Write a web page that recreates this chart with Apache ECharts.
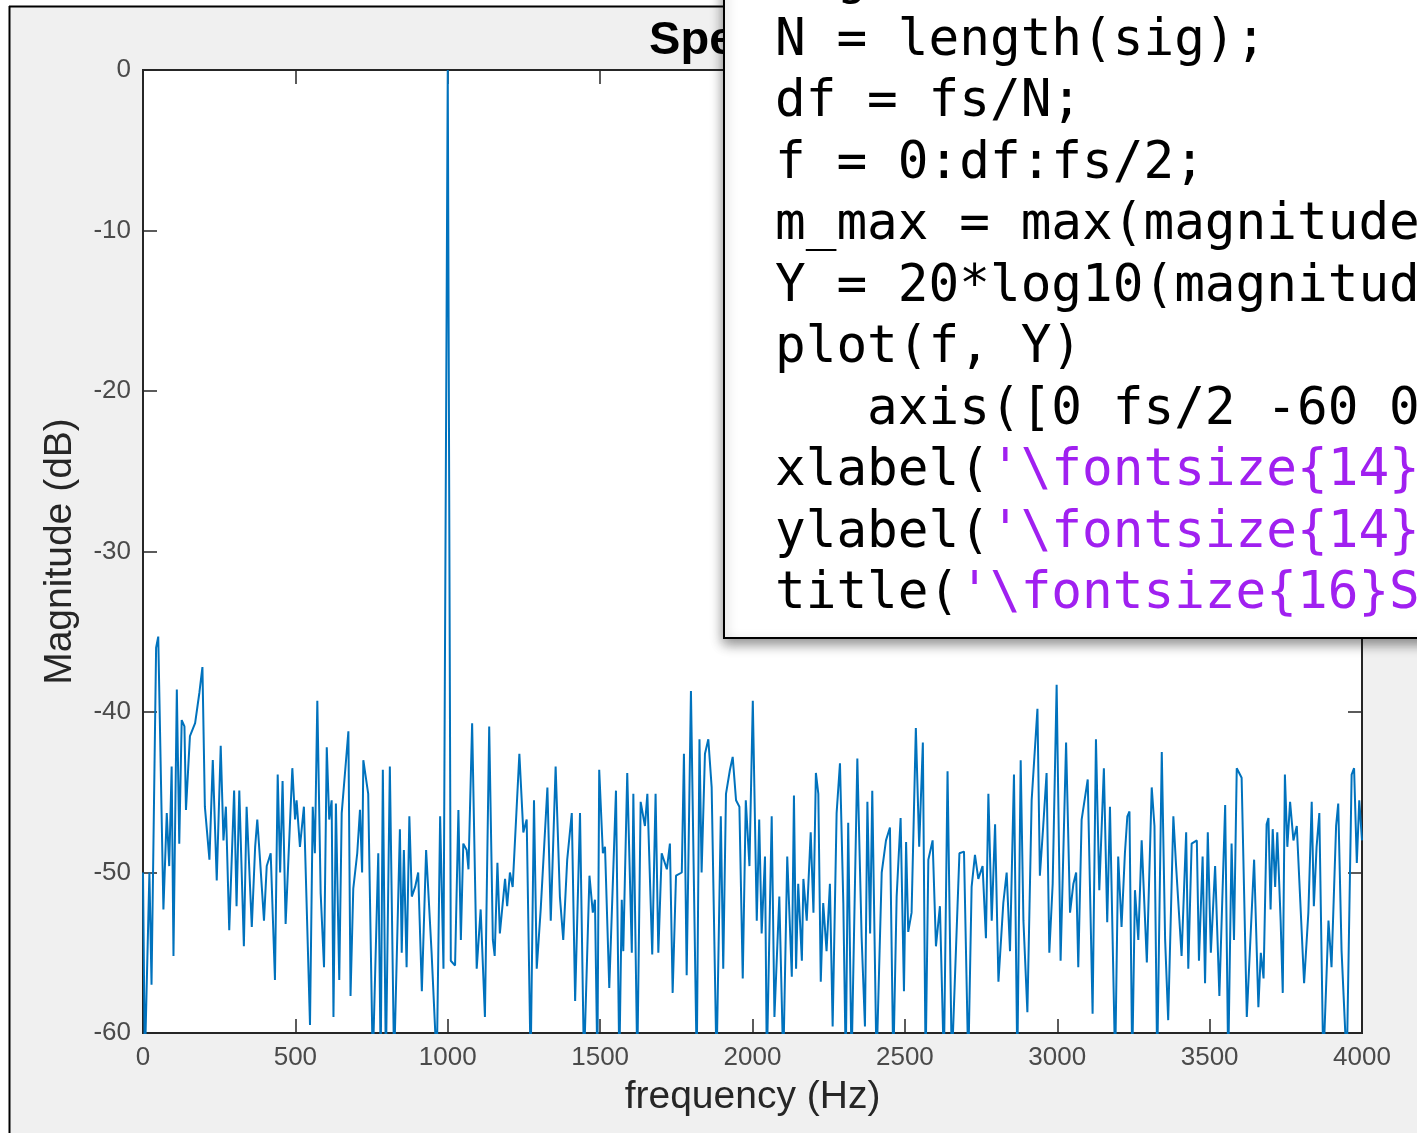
<!DOCTYPE html>
<html>
<head>
<meta charset="utf-8">
<style>
  html, body { margin: 0; padding: 0; background: #fff; }
  #chart { width: 1417px; height: 1133px; }
</style>
<script src="https://cdn.jsdelivr.net/npm/echarts@6/dist/echarts.min.js"></script>
</head>
<body>
<div id="chart"></div>
<script>
// Single-sided magnitude spectrum, 0 .. fs/2 (fs = 8000 Hz), normalised to the peak.
const freqHz = [
  0, 6, 21, 28, 43, 50, 67, 78, 86, 94, 100, 111, 119, 127, 136, 141, 154, 171, 185, 195,
  203, 218, 229, 242, 255, 264, 272, 283, 299, 307, 316, 331, 340, 357, 368, 375, 384, 397, 406, 419,
  433, 442, 450, 458, 468, 490, 499, 504, 515, 528, 548, 557, 564, 572, 583, 594, 603, 611, 619, 625,
  633, 644, 652, 674, 681, 690, 703, 712, 719, 723, 739, 754, 772, 780, 787, 797, 810, 824, 843, 849,
  856, 865, 874, 882, 893, 903, 915, 929, 947, 964, 975, 986, 1000, 1010, 1024, 1035, 1043, 1051, 1062, 1068,
  1080, 1095, 1108, 1122, 1136, 1148, 1154, 1163, 1171, 1188, 1195, 1204, 1213, 1235, 1248, 1259, 1272, 1283, 1292, 1305,
  1327, 1338, 1354, 1368, 1379, 1392, 1407, 1418, 1434, 1447, 1465, 1476, 1483, 1491, 1497, 1509, 1516, 1530, 1552, 1563,
  1571, 1576, 1589, 1604, 1609, 1622, 1633, 1647, 1655, 1671, 1682, 1691, 1702, 1719, 1729, 1738, 1749, 1768, 1775, 1784,
  1798, 1817, 1826, 1833, 1844, 1855, 1866, 1882, 1896, 1904, 1913, 1926, 1935, 1946, 1957, 1968, 1978, 1990, 2001, 2014,
  2022, 2030, 2041, 2047, 2063, 2072, 2088, 2101, 2114, 2129, 2136, 2143, 2150, 2162, 2167, 2178, 2191, 2200, 2208, 2216,
  2224, 2232, 2243, 2254, 2263, 2276, 2287, 2298, 2306, 2314, 2325, 2344, 2358, 2369, 2377, 2386, 2393, 2407, 2424, 2438,
  2451, 2462, 2473, 2486, 2497, 2504, 2511, 2522, 2536, 2547, 2559, 2568, 2577, 2591, 2602, 2615, 2628, 2640, 2654, 2679,
  2694, 2708, 2719, 2730, 2741, 2755, 2766, 2774, 2785, 2796, 2807, 2823, 2834, 2845, 2858, 2869, 2880, 2889, 2902, 2916,
  2935, 2943, 2954, 2965, 2974, 2985, 2998, 3011, 3029, 3042, 3053, 3062, 3069, 3080, 3100, 3116, 3127, 3138, 3153, 3164,
  3173, 3190, 3200, 3211, 3222, 3230, 3237, 3246, 3255, 3266, 3277, 3294, 3310, 3319, 3328, 3343, 3354, 3364, 3381, 3390,
  3408, 3423, 3430, 3441, 3458, 3465, 3477, 3485, 3494, 3504, 3518, 3532, 3551, 3561, 3572, 3580, 3589, 3605, 3622, 3646,
  3660, 3668, 3677, 3687, 3693, 3700, 3707, 3715, 3722, 3733, 3740, 3747, 3755, 3764, 3775, 3786, 3810, 3824, 3835, 3842,
  3851, 3860, 3873, 3890, 3900, 3915, 3922, 3933, 3950, 3966, 3974, 3983, 3991, 4000
];

const magDb = [
  -50, -62, -50, -57, -36, -35.3, -52.3, -46.3, -49.6, -43.4, -55.2, -38.6, -48.2, -40.5, -40.9, -46.1, -41.5, -40.7, -38.8, -37.2,
  -45.9, -49.2, -43.0, -50.5, -42.1, -48.0, -45.9, -53.6, -44.9, -52.1, -44.9, -54.6, -45.9, -53.4, -48.4, -46.7, -49.2, -53.0, -49.6, -48.8,
  -56.7, -43.9, -50.0, -44.3, -53.2, -43.5, -46.7, -45.5, -48.4, -45.9, -59.5, -45.9, -48.8, -39.3, -51.3, -55.9, -42.2, -46.7, -45.5, -59.0,
  -45.7, -56.7, -46.3, -41.2, -57.7, -51.0, -48.8, -46.1, -50.0, -43.0, -45.1, -62, -48.8, -62, -43.6, -62, -43.4, -62, -47.3, -55,
  -48.6, -55.9, -46.5, -51.5, -50.9, -50, -57.4, -48.6, -55, -62, -46.5, -56, 0, -55.5, -55.8, -46.1, -54.2, -48.2, -48.6, -49.8,
  -40.7, -56, -52.3, -59, -40.9, -54.2, -55.2, -49.4, -53.8, -50.4, -52.1, -50, -50.9, -42.6, -47.5, -46.7, -62, -45.5, -56, -52.3,
  -44.7, -53, -43.4, -51.5, -54.2, -49.2, -46.3, -58, -46.3, -62, -50.2, -52.5, -51.7, -62, -43.6, -48.8, -48.4, -57.2, -44.9, -62,
  -51.7, -54.9, -43.8, -55, -45.1, -62, -45.6, -47.1, -45.1, -55.1, -45.1, -55, -48.8, -49.8, -48.2, -57.5, -50.2, -50, -42.6, -56.4,
  -38.7, -62, -41.7, -50, -42.6, -41.7, -44.7, -62, -46.5, -56, -45.1, -43.6, -42.8, -45.5, -45.9, -56.6, -45.5, -49.6, -39.3, -53,
  -46.7, -53.8, -49, -62, -46.5, -59, -51.5, -62, -49, -56.5, -45.2, -56, -50.7, -55.5, -50.4, -53, -47.5, -52.5, -43.8, -45.1,
  -56.8, -51.9, -54.9, -50.7, -59.6, -46.3, -43.2, -51.9, -62, -46.9, -62, -42.9, -54, -59.6, -45.6, -53.8, -44.9, -62, -50, -48,
  -47.2, -62, -51.5, -46.6, -57.4, -48.1, -53.7, -52.5, -41, -48.4, -41.9, -62, -49.2, -48, -54.6, -52.1, -62, -43.7, -62, -48.8,
  -48.7, -62, -50.9, -48.9, -50.4, -49.6, -54.1, -45.1, -53, -47, -56.8, -51.9, -50, -54.9, -43.9, -62, -43, -53, -58.7, -45.5,
  -39.8, -50.2, -47.1, -43.8, -55, -50.7, -38.3, -55.5, -41.9, -52.5, -50.7, -50, -55.9, -46.7, -44.2, -58.8, -41.7, -51.1, -43.5, -53.1,
  -45.9, -62, -49, -53.4, -48.8, -46.5, -46.2, -62, -51.1, -54.2, -48, -55.6, -44.7, -47.1, -62, -42.5, -54.2, -59.2, -46.5, -49.6,
  -55.2, -47.5, -56, -48.2, -48, -55.5, -49, -56.9, -47.5, -55, -49.6, -57.7, -45.8, -62, -48.2, -54.2, -43.5, -44.1, -59, -49.2,
  -58.4, -55, -56.6, -47, -46.6, -52.3, -47.3, -50.9, -47.5, -53, -57.5, -43.9, -48.4, -45.6, -48, -47.1, -56.9, -52.5, -45.6, -52.1,
  -48.4, -46.3, -62, -53, -55.9, -47.1, -45.7, -54.9, -62, -43.9, -43.5, -49.4, -45.5, -48
];

// MATLAB snippet shown in the editor panel
const codeLines = [
  [['magnitude = abs(fft(sig));', 'k']],
  [['N = length(sig);', 'k']],
  [['df = fs/N;', 'k']],
  [['f = 0:df:fs/2;', 'k']],
  [['m_max = max(magnitude);', 'k']],
  [['Y = 20*log10(magnitude/m_max);', 'k']],
  [['plot(f, Y)', 'k']],
  [['   axis([0 fs/2 -60 0])', 'k']],
  [['xlabel(', 'k'], ["'\\fontsize{14}frequency (Hz)'", 's'], [')', 'k']],
  [['ylabel(', 'k'], ["'\\fontsize{14}Magnitude (dB)'", 's'], [')', 'k']],
  [['title(', 'k'], ["'\\fontsize{16}Spectrum'", 's'], [')', 'k']]
];

const titleText = 'Spectrum';
const xName = 'frequency (Hz)';
const yName = 'Magnitude (dB)';

const sans = '"Liberation Sans", Helvetica, Arial, sans-serif';
const mono = '"DejaVu Sans Mono", monospace';
const axisInk = '#262626';

const chart = echarts.init(document.getElementById('chart'), null, { renderer: 'canvas' });

// editor panel overlay
const codeFont = 51;
const charW = codeFont * 0.60205;
const codeX = 775;
const codeY0 = -20;
const codeStep = 61.5;
const codeGraphics = [
  {
    type: 'rect', z: 100,
    shape: { x: 724, y: -20, width: 800, height: 658 },
    style: {
      fill: '#fff', stroke: '#000', lineWidth: 2,
      shadowBlur: 12, shadowOffsetX: 0, shadowOffsetY: 5, shadowColor: 'rgba(0,0,0,0.45)'
    }
  }
];
codeLines.forEach((segs, i) => {
  let col = 0;
  segs.forEach(([txt, kind]) => {
    codeGraphics.push({
      type: 'text', z: 101,
      x: codeX + col * charW,
      y: codeY0 + i * codeStep,
      style: {
        text: txt,
        font: codeFont + 'px ' + mono,
        fill: kind === 's' ? '#A020F0' : '#000',
        align: 'left', verticalAlign: 'middle',
        textAlign: 'left', textVerticalAlign: 'middle'
      }
    });
    col += txt.length;
  });
});

const frameGraphics = [
  { type: 'rect', z: 99, shape: { x: 0, y: 0, width: 9, height: 1133 }, style: { fill: '#fff' } },
  { type: 'rect', z: 99, shape: { x: 0, y: 0, width: 1417, height: 6 }, style: { fill: '#fff' } },
  { type: 'line', z: 99, shape: { x1: 9.5, y1: 6, x2: 9.5, y2: 1133 }, style: { stroke: '#000', lineWidth: 2 } },
  { type: 'line', z: 99, shape: { x1: 9, y1: 6.5, x2: 1417, y2: 6.5 }, style: { stroke: '#000', lineWidth: 2 } }
];

const tickStyle = { inside: true, length: 14, lineStyle: { color: axisInk, width: 1.5 } };
const hiddenLine = { show: false, onZero: false };
const labelStyle = { color: '#4a4a4a', fontSize: 26, fontFamily: sans, formatter: v => String(v) };
const nameStyle = { color: axisInk, fontSize: 39, fontFamily: sans };

chart.setOption({
  animation: false,
  backgroundColor: '#f0f0f0',
  title: {
    text: titleText,
    left: 752.5, top: 13, textAlign: 'center',
    textStyle: { fontFamily: sans, fontWeight: 'bold', fontSize: 47, color: '#000' }
  },
  grid: {
    left: 143, top: 70, right: 55, bottom: 100,
    show: true, backgroundColor: '#fff', borderColor: axisInk, borderWidth: 2
  },
  xAxis: [
    {
      type: 'value', min: 0, max: 4000, interval: 500, position: 'bottom',
      name: xName, nameLocation: 'middle', nameGap: 45, nameTextStyle: nameStyle,
      axisLine: hiddenLine, axisTick: tickStyle,
      axisLabel: Object.assign({ margin: 12 }, labelStyle),
      splitLine: { show: false }
    },
    {
      type: 'value', min: 0, max: 4000, interval: 500, position: 'top',
      axisLine: hiddenLine, axisTick: tickStyle, axisLabel: { show: false },
      splitLine: { show: false }
    }
  ],
  yAxis: [
    {
      type: 'value', min: -60, max: 0, interval: 10, position: 'left',
      name: yName, nameLocation: 'middle', nameGap: 63, nameRotate: 90, nameTextStyle: nameStyle,
      axisLine: hiddenLine, axisTick: tickStyle,
      axisLabel: Object.assign({ margin: 12 }, labelStyle),
      splitLine: { show: false }
    },
    {
      type: 'value', min: -60, max: 0, interval: 10, position: 'right',
      axisLine: hiddenLine, axisTick: tickStyle, axisLabel: { show: false },
      splitLine: { show: false }
    }
  ],
  series: [
    {
      type: 'line',
      xAxisIndex: 0, yAxisIndex: 0,
      data: freqHz.map((f, i) => [f, magDb[i]]),
      showSymbol: false, symbol: 'none',
      clip: true,
      lineStyle: { color: '#0072BD', width: 2 },
      z: 5
    }
  ],
  graphic: frameGraphics.concat(codeGraphics)
});
</script>
</body>
</html>
